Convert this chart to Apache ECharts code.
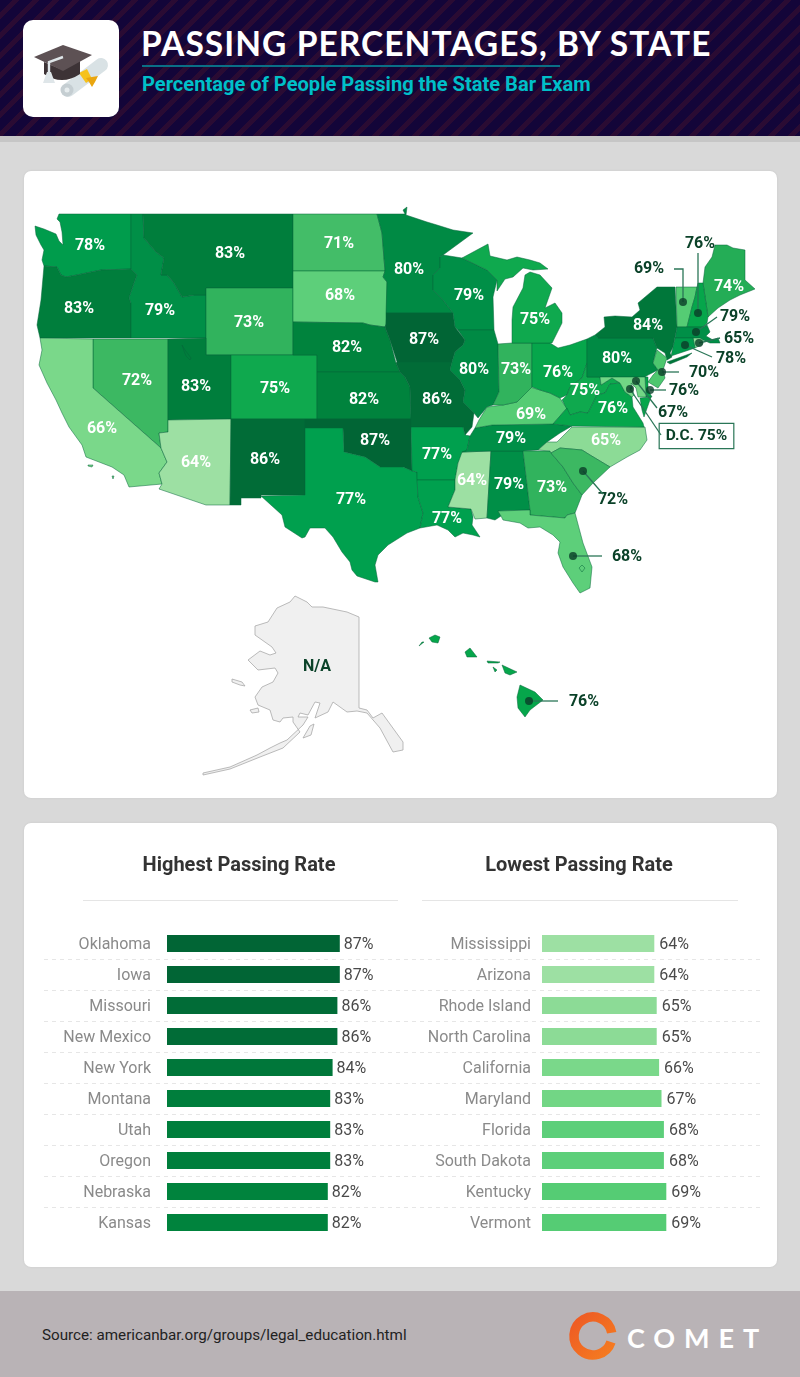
<!DOCTYPE html>
<html><head><meta charset="utf-8">
<style>
html,body{margin:0;padding:0;background:#d9d9d9;width:800px;height:1377px;overflow:hidden;font-family:Roboto,sans-serif}
.abs{position:absolute}
#hdr{left:0;top:0;width:800px;height:136px;background:repeating-linear-gradient(135deg,#130539 0 9px,#2a0b33 9px 14px)}
#band{left:0;top:136px;width:800px;height:6px;background:#c6c6c6}
#foot{left:0;top:1291px;width:800px;height:86px;background:#b9b3b6}
.card{left:24px;width:753px;background:#fff;border-radius:7px;box-shadow:0 0 2px #c4c4c4}
#title{left:141px;top:23px;color:#fff;font:700 33.5px/40px Lato,sans-serif;letter-spacing:1.05px;white-space:nowrap}
#rule{left:142px;top:65px;width:418px;height:2px;background:#0a6f86}
#sub{left:142px;top:72px;color:#00bfc8;font:700 20.1px/24px Roboto,sans-serif;white-space:nowrap}
#src{left:42px;top:1326px;color:#222;font:400 15.2px/18px Roboto,sans-serif;white-space:nowrap}
#comet{left:627px;top:1323px;color:#fff;font:700 27px/30px Lato,sans-serif;letter-spacing:8.9px;white-space:nowrap}
#chart{left:0;top:0;width:800px;height:1377px}
svg{position:absolute;left:0;top:0}
</style></head><body>
<div class="abs" id="hdr"></div><div class="abs" id="band"></div><div class="abs" id="foot"></div>
<div class="abs card" style="top:171px;height:627px"></div>
<div class="abs card" style="top:823px;height:444px"></div>
<div class="abs" style="left:23px;top:20px;width:96px;height:97px;background:#fff;border-radius:10px"></div>
<svg width="800" height="1377">
 <defs><linearGradient id="og" x1="0" y1="0" x2="1" y2="1"><stop offset="0" stop-color="#ee5a24"/><stop offset="1" stop-color="#f57c20"/></linearGradient></defs>
 <line x1="68" y1="90" x2="101" y2="65" stroke="#d9e2e5" stroke-width="14" stroke-linecap="round"/>
 <circle cx="67" cy="90" r="6.5" fill="#c5ced2"/><circle cx="67" cy="90" r="2.5" fill="#e6ecee"/>
 <polygon points="79,73 87,69 92,79 86,83" fill="#f6c21c"/>
 <polygon points="86,78 98,76 95,82 92,87 89,82" fill="#eaa60f"/>
 <path d="M44 62 L44 74 Q62 86 80 74 L80 60 L63 70 Z" fill="#3d3336"/>
 <polygon points="34,57 63,45 92,55 63,71" fill="#5d5154"/>
 <polyline points="63,57 49,62 49,72" fill="none" stroke="#dfe6e9" stroke-width="2.4"/>
 <polygon points="47,72 51,72 55,83 43,83" fill="#dfe6e9"/>
 <path d="M611.7 1332.7 A19 19 0 1 0 611 1342" fill="none" stroke="url(#og)" stroke-width="9.5"/>
</svg>
<div class="abs" id="title">PASSING PERCENTAGES, BY STATE</div>
<div class="abs" id="rule"></div>
<div class="abs" id="sub">Percentage of People Passing the State Bar Exam</div>
<div class="abs" id="src">Source: americanbar.org/groups/legal_education.html</div>
<div class="abs" id="comet">COMET</div>
<div class="abs" id="chart"></div>
<script src="https://cdn.jsdelivr.net/npm/echarts@6/dist/echarts.min.js"></script>
<script>
// ---------- values ----------
const stateNames = ['Washington','Oregon','Idaho','Montana','Wyoming','Nevada','Utah','Colorado','California','Arizona','New Mexico','North Dakota','South Dakota','Nebraska','Kansas','Oklahoma','Texas','Minnesota','Iowa','Missouri','Arkansas','Louisiana','Wisconsin','Illinois','Mississippi','Alabama','Tennessee','Kentucky','Indiana','Ohio','Michigan','Georgia','North Carolina','West Virginia','Virginia','Pennsylvania','New York','Maine','Vermont','New Hampshire','Massachusetts','Rhode Island','Connecticut','New Jersey','Delaware','Maryland','District of Columbia','South Carolina','Florida','Hawaii','Alaska'];
const stateValues = [78,83,79,83,73,72,83,75,66,64,86,71,68,82,82,87,77,80,87,86,77,77,79,80,64,79,79,69,73,76,75,73,65,75,76,80,84,74,69,76,79,65,78,70,76,67,75,72,68,76,null];
const calloutStates = ['Vermont','New Hampshire','Massachusetts','Rhode Island','Connecticut','New Jersey','Delaware','Maryland','District of Columbia','South Carolina','Florida','Hawaii','Alaska'];
const highestStates = ['Oklahoma','Iowa','Missouri','New Mexico','New York','Montana','Utah','Oregon','Nebraska','Kansas'];
const highestValues = [87,87,86,86,84,83,83,83,82,82];
const lowestStates = ['Mississippi','Arizona','Rhode Island','North Carolina','California','Maryland','Florida','South Dakota','Kentucky','Vermont'];
const lowestValues = [64,64,65,65,66,67,68,68,69,69];
const rampValues = [64,65,66,67,68,69,70,71,72,73,74,75,76,77,78,79,80,82,83,84,86,87];
const rampColors = ['#9de0a3','#8cdb96','#7ad88a','#72d685','#5dcf7a','#55cc74','#4dc76e','#43bd68','#3cb862','#31b35d','#24ad56','#0fa94e','#06a64b','#00a04e','#009c4c','#008f47','#008a44','#00833d','#007e3c','#00773a','#016c37','#016535'];
// ---------- map outlines (region shapes, in picture space) ----------
const stateShapes = {
Washington:[[59,214,131,214,131,269,101,270,77,275,66,277,61,275,57,267,44,266,42,260,44,250,41,245,36,235,35,226,44,229,56,234,59,241,63,245,62,232,60,222,57,219]],
Oregon:[[44,266,57,267,61,275,66,277,77,275,101,270,131,269,137,275,134,283,129,298,131,303,131,338,40,338,37,325,41,300]],
Idaho:[[131,214,143,214,144,238,156,252,164,258,161,275,167,275,174,283,182,297,194,295,206,295,206,338,131,338,131,303,129,298,134,283,137,275,131,269]],
Montana:[[143,214,293,214,293,288,206,288,206,295,194,295,182,297,174,283,167,275,161,275,164,258,156,252,144,238]],
Wyoming:[[206,288,293,288,293,355,206,355]],
Nevada:[[93,339,168,339,168,432,159,433,161,448,93,388]],
Utah:[[168,339,206,338,206,355,231,355,231,419,168,420]],
Colorado:[[231,355,317,355,317,419,231,419]],
California:[[40,338,93,339,93,388,161,448,167,462,159,473,162,484,129,487,124,475,112,467,86,457,82,445,69,427,62,413,56,400,47,383,39,365,42,350],[88,465,93,465,92,467,88,466],[112,476,114,476,113,479]],
Arizona:[[168,420,231,419,230,505,206,505,159,489,162,484,159,473,167,462,161,448,159,433,168,432]],
'New Mexico':[[231,419,305,419,305,495,261,495,261,498,241,498,241,505,230,505]],
'North Dakota':[[293,214,377,214,382,233,385,271,293,271]],
'South Dakota':[[293,271,385,271,383,277,387,282,387,313,386,324,385,327,370,325,363,323,293,322]],
Nebraska:[[293,322,363,323,370,325,385,327,390,340,396,363,400,372,317,372,317,355,293,355]],
Kansas:[[317,372,400,372,405,377,410,387,411,419,317,419]],
Oklahoma:[[305,419,411,419,411,427,412,471,403,467,380,467,365,457,344,452,343,428,305,428]],
Texas:[[305,428,343,428,344,452,365,457,380,467,403,467,412,471,417,472,418,497,423,513,420,528,407,533,388,545,378,555,375,565,378,582,375,582,357,576,352,570,350,562,342,552,333,537,325,528,310,528,305,537,302,538,285,527,282,515,261,496,261,495,305,495]],
Minnesota:[[377,214,405,214,403,210,407,207,406,215,427,222,437,225,453,230,473,233,443,255,440,257,440,268,433,275,433,290,443,300,453,313,386,313,387,282,383,277,385,271,382,233]],
Iowa:[[386,313,453,313,455,327,465,340,463,345,455,352,452,362,397,362,390,340,385,327,386,324]],
Missouri:[[397,362,452,362,450,370,460,380,465,390,463,402,474,413,472,427,465,435,463,427,411,427,411,419,410,387,405,377,400,372,396,363]],
Arkansas:[[411,427,463,427,465,435,470,436,467,450,458,463,455,480,417,480,417,472,412,471]],
Louisiana:[[417,480,455,480,455,490,448,507,471,509,473,517,472,525,480,537,473,535,463,533,455,537,448,530,437,525,420,528,423,513,418,497]],
Wisconsin:[[440,257,443,255,462,258,487,270,497,280,493,297,494,330,458,330,455,327,453,313,443,300,433,290,433,275,440,268]],
Illinois:[[458,330,494,330,498,344,499,392,493,405,487,407,478,418,474,413,463,402,465,390,460,380,450,370,452,362,455,352,463,345,465,340]],
Mississippi:[[462,452,491,451,487,518,475,519,471,509,448,507,455,490,455,480,458,463]],
Alabama:[[491,451,523,451,530,510,498,511,501,516,495,520,487,518]],
Tennessee:[[467,450,470,436,475,428,492,425,553,424,572,426,560,433,547,442,538,450,523,451,491,451,462,452]],
Kentucky:[[475,428,479,420,487,407,503,405,517,402,530,387,540,390,550,393,560,398,563,403,567,408,553,424,492,425]],
Indiana:[[498,344,512,343,532,343,532,387,517,402,503,405,493,405,499,392]],
Ohio:[[532,343,550,343,558,348,570,345,587,339,587,363,582,378,570,387,567,395,560,398,550,393,540,390,532,387]],
Michigan:[[525,275,530,272,540,275,552,288,545,308,555,303,562,313,562,323,552,343,532,343,512,343,512,320,513,307,523,288],[462,258,488,244,490,256,507,260,517,257,530,260,540,263,548,269,533,270,523,268,513,277,505,279,497,291,497,280,487,270]],
Georgia:[[523,451,550,451,551,453,563,467,573,483,582,495,575,513,567,515,565,518,530,515,530,510]],
'South Carolina':[[551,453,560,448,582,450,590,455,610,467,593,483,582,495,573,483,563,467]],
'North Carolina':[[538,450,547,442,557,442,572,427,645,427,647,440,640,450,627,457,610,467,590,455,582,450,560,448,551,453,550,451]],
'West Virginia':[[587,363,587,377,600,377,601,385,612,378,620,383,610,384,605,393,597,395,588,413,580,412,570,415,562,400,567,395,570,387,582,378]],
Virginia:[[553,424,567,408,570,415,580,412,588,413,597,395,605,393,610,384,620,383,625,392,632,397,633,407,643,423,644,427,572,426],[640,398,651,397,644,417,642,410]],
Pennsylvania:[[587,339,595,335,598,338,653,338,657,348,653,363,658,370,648,375,645,377,600,377,587,377,587,363]],
'New York':[[595,335,605,327,604,317,615,316,632,317,640,310,638,303,657,287,675,287,677,327,673,347,670,353,672,357,667,360,665,353,657,348,653,338,598,338],[667,362,692,353,687,357,670,364]],
Maine:[[703,283,705,267,712,257,715,245,727,245,733,248,745,250,745,280,755,289,740,295,730,300,718,308,708,317]],
Vermont:[[676,287,697,287,695,297,692,307,687,327,677,327]],
'New Hampshire':[[698,283,703,283,708,317,707,323,703,327,687,327,692,307,695,297,697,287]],
Massachusetts:[[677,327,703,327,707,325,710,332,706,336,713,340,718,338,720,343,710,343,703,340,700,338,675,338]],
'Rhode Island':[[693,338,700,338,703,340,703,344,695,348]],
Connecticut:[[675,338,693,338,695,348,671,356]],
'New Jersey':[[657,350,667,358,663,370,665,378,658,388,648,382,653,375,658,370,653,363]],
Delaware:[[645,377,648,377,648,390,652,397,646,397]],
Maryland:[[600,377,645,377,646,397,638,397,636,388,631,383,634,395,632,397,625,392,620,383,612,378,601,385]],
'District of Columbia':[[630,387,632,387,632,389,630,389]],
Florida:[[498,511,530,510,530,515,565,518,567,515,575,513,583,543,592,567,590,588,580,593,573,583,563,567,558,553,560,542,553,535,540,527,528,528,520,523,503,520,501,516]],
Hawaii:[[520,685,535,692,543,700,530,710,525,717,518,708,517,697],[502,665,517,672,510,675,505,673],[487,661,500,662,498,663,488,663],[493,667,497,670,495,672],[470,648,477,657,467,657,465,652],[435,635,440,637,438,643,432,642,429,638],[422,642,424,642,419,646]],
Alaska:[[295,596,307,602,312,607,323,607,347,612,359,617,359,708,367,710,373,718,382,713,403,742,403,750,393,752,380,728,367,713,357,711,347,712,333,702,328,712,315,718,320,703,315,702,308,715,300,713,298,717,308,717,303,725,287,740,280,743,270,748,257,755,230,767,203,773,203,775,230,769,260,757,283,748,300,732,293,722,293,717,283,718,280,722,273,720,270,710,258,705,255,697,262,687,273,682,278,673,275,668,258,670,248,660,260,651,270,655,276,653,272,647,255,635,255,626,268,622,277,608,290,602],[232,679,242,682,245,686,240,685,232,682],[250,710,258,708,259,712,252,713],[303,738,310,726,314,724,311,735]]
};
const shapeHoles = { Utah:[[182,345,185,350,191,358,190,360,186,356,184,351]], Florida:[[582,565,585,568,582,572,579,568]] };
const labelAnchors = {Washington:[90,245],Oregon:[79,308],Idaho:[160,310],Montana:[230,253],Wyoming:[249,322],Nevada:[137,380],Utah:[196,386],Colorado:[275,388],California:[102,428],Arizona:[196,462],'New Mexico':[265,459],'North Dakota':[339,243],'South Dakota':[340,295],Nebraska:[347,347],Kansas:[364,399],Oklahoma:[375,440],Texas:[351,499],Minnesota:[409,269],Iowa:[424,339],Missouri:[437,399],Arkansas:[437,454],Louisiana:[447,518],Wisconsin:[469,295],Illinois:[474,369],Mississippi:[472,480],Alabama:[509,484],Tennessee:[511,438],Kentucky:[531,414],Indiana:[516,369],Ohio:[558,372],Michigan:[535,319],Georgia:[552,487],'North Carolina':[606,440],'West Virginia':[585,390],Virginia:[613,408],Pennsylvania:[617,358],'New York':[648,325],Maine:[729,286],Vermont:[649,268],'New Hampshire':[700,243],Massachusetts:[735,316],'Rhode Island':[739,338],Connecticut:[731,358],'New Jersey':[704,372],Delaware:[684,390],Maryland:[673,412],'District of Columbia':[696.5,435],'South Carolina':[613,499],Florida:[627,556],Hawaii:[584,701],Alaska:[317,666]};
const leaderPaths = {Vermont:[[683,302],[683,269],[674,269]],'New Hampshire':[[698,313],[698,253]],Massachusetts:[[696,332],[717,317]],'Rhode Island':[[699,343],[720,338]],Connecticut:[[685,345],[712,357]],'New Jersey':[[662,372],[679,372]],Delaware:[[650,390],[666,390]],Maryland:[[636,381],[657,408]],'District of Columbia':[[630,389],[661,435]],'South Carolina':[[583,471],[603,494]],Florida:[[573,556],[602,556]],Hawaii:[[529,701],[558,701]]};
// ---------- helpers ----------
const geoPt = p => [p[0], -p[1]];
const ring = flat => { const r = []; for (let i = 0; i < flat.length; i += 2) r.push([flat[i], -flat[i + 1]]); r.push(r[0]); return r; };
const colorOf = v => rampColors[rampValues.indexOf(v)];
const features = stateNames.map(name => ({
  type: 'Feature',
  properties: { name, cp: geoPt(labelAnchors[name]) },
  geometry: { type: 'MultiPolygon', coordinates: stateShapes[name].map((s, i) => {
    const rings = [ring(s)];
    if (i === 0 && shapeHoles[name]) shapeHoles[name].forEach(h => rings.push(ring(h)));
    return rings;
  }) }
}));
echarts.registerMap('usa', { type: 'FeatureCollection', features });
const DARK = '#0b4229', LINE = '#2a7657';
const mapData = stateNames.map((name, i) => {
  const v = stateValues[i], callout = calloutStates.includes(name), na = v === null;
  const item = { name, value: na ? NaN : v,
    itemStyle: na ? { areaColor: '#f0f0f0', borderColor: '#a9a9a9', borderWidth: 0.8 } : { areaColor: colorOf(v), borderColor: '#07653a', borderWidth: 0.5 },
    label: { show: true, color: callout ? DARK : '#fff' } };
  if (name === 'District of Columbia') Object.assign(item.label, { backgroundColor: '#fff', borderColor: LINE, borderWidth: 1.2, padding: [5, 6, 3, 6], fontSize: 15.5 });
  return item;
});
const lineData = Object.values(leaderPaths).map(p => ({ coords: p.map(geoPt) }));
const dotData = Object.values(leaderPaths).map(p => geoPt(p[0]));
const BAND = 31, ROWS = 10, GTOP = 928;
const separators = [];
for (let i = 1; i < ROWS; i++) separators.push({ type: 'line', silent: true, shape: { x1: 44, y1: GTOP + BAND * i + 0.5, x2: 761, y2: GTOP + BAND * i + 0.5 }, style: { stroke: '#e6e6e6', lineWidth: 1, lineDash: [4, 4] } });
[[83, 398], [422, 738]].forEach(r => separators.push({ type: 'line', silent: true, shape: { x1: r[0], y1: 900.5, x2: r[1], y2: 900.5 }, style: { stroke: '#e5e5e5', lineWidth: 1 } }));
const barSeries = (values, idx, dist) => ({
  type: 'bar', xAxisIndex: idx, yAxisIndex: idx, barWidth: 17, silent: true,
  data: values.map(v => ({ value: v, itemStyle: { color: colorOf(v) } })),
  label: { show: true, position: 'right', distance: dist, offset: [0, 1], formatter: p => p.value + '%', color: '#4a4a4a', fontFamily: 'Roboto', fontSize: 16 }
});
const catAxis = (cats, idx, margin) => ({ type: 'category', gridIndex: idx, data: cats, inverse: true,
  axisLine: { show: false }, axisTick: { show: false },
  axisLabel: { margin, formatter: v => '{a|' + v + '}', rich: { a: { color: '#8a8a8a', fontFamily: 'Roboto', fontSize: 16, padding: [3, 0, 0, 0] } } } });
const valAxis = (min, idx) => ({ type: 'value', gridIndex: idx, min, max: 100, show: false });
const LAYOUT = { aspectScale: 1, boundingCoords: [[0, 0], [800, -1377]], left: 0, top: 0, width: 800, height: 1377, roam: false };
const chart = echarts.init(document.getElementById('chart'), null, { renderer: 'canvas' });
chart.setOption({
  animation: false, backgroundColor: 'transparent', tooltip: { show: false },
  title: [
    { text: 'Highest Passing Rate', left: 234, top: 851, textAlign: 'center', textStyle: { color: '#333', fontFamily: 'Roboto', fontWeight: 700, fontSize: 20 } },
    { text: 'Lowest Passing Rate', left: 574, top: 851, textAlign: 'center', textStyle: { color: '#333', fontFamily: 'Roboto', fontWeight: 700, fontSize: 20 } }
  ],
  graphic: separators,
  geo: Object.assign({ map: 'usa', silent: true, itemStyle: { areaColor: 'transparent', borderColor: 'transparent', borderWidth: 0 }, label: { show: false }, z: 0 }, LAYOUT),
  grid: [
    { left: 167, top: GTOP, width: 204, height: BAND * ROWS },
    { left: 542, top: GTOP, width: 198.7, height: BAND * ROWS }
  ],
  xAxis: [valAxis(15, 0), valAxis(17.2, 1)],
  yAxis: [catAxis(highestStates, 0, 16), catAxis(lowestStates, 1, 11)],
  series: [
    Object.assign({ type: 'map', map: 'usa', silent: true, data: mapData, z: 2,
      label: { show: true, fontFamily: 'Roboto', fontWeight: 700, fontSize: 16, offset: [0, 1], formatter: p => {
        if (p.name === 'Alaska') return 'N/A';
        return (p.name === 'District of Columbia' ? 'D.C. ' : '') + p.value + '%'; } } }, LAYOUT),
    { type: 'lines', coordinateSystem: 'geo', geoIndex: 0, polyline: true, silent: true, data: lineData, lineStyle: { color: LINE, width: 1.3, opacity: 1 }, z: 5 },
    { type: 'scatter', coordinateSystem: 'geo', geoIndex: 0, silent: true, data: dotData, symbolSize: 8, itemStyle: { color: '#0a3d28' }, z: 6 },
    barSeries(highestValues, 0, 4),
    barSeries(lowestValues, 1, 5)
  ]
});
</script></body></html>
